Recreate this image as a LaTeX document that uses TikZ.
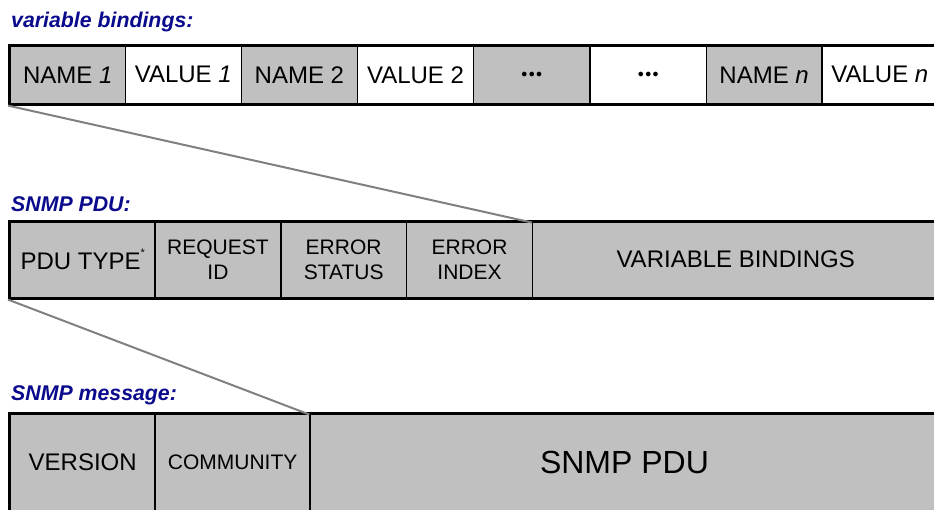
\documentclass[tikz,border=0pt]{standalone}
\usepackage{fontspec}
\setmainfont{Liberation Sans}
\definecolor{cellgray}{HTML}{C0C0C0}
\definecolor{lblblue}{HTML}{0A0A8C}
\definecolor{linkgray}{HTML}{808080}
\tikzset{
  cell/.style={draw=black, line width=1.6pt, inner sep=0pt, anchor=north west, align=center},
  gcell/.style={cell, fill=cellgray},
  wcell/.style={cell, fill=white},
  frame/.style={draw=black, line width=3pt},
  lbl/.style={anchor=west, inner sep=0pt, text=lblblue, font=\fontsize{21.3}{24}\selectfont\bfseries\itshape},
  link/.style={draw=linkgray, line width=2pt},
  big/.style={font=\fontsize{24}{28}\selectfont},
  mid/.style={font=\fontsize{21}{25}\selectfont},
  huge/.style={font=\fontsize{32}{36}\selectfont},
  toprow/.style={minimum height=57pt},
  midrow/.style={minimum height=75.5pt},
  botrow/.style={minimum height=96.5pt},
}
\newcommand{\mydots}{{\fontsize{13}{13}\selectfont$\bullet\mkern-2mu\bullet\mkern-2mu\bullet$}}
\begin{document}
\begin{tikzpicture}[x=1pt,y=-1pt]
\useasboundingbox (0,0) rectangle (934,509);
\begin{scope}
\clip (0,0) rectangle (934,509);
% labels
\node[lbl] (l1) at (11,22) {variable bindings:};
\node[lbl] (l2) at (11,204) {SNMP PDU:};
\node[lbl] (l3) at (11,395) {SNMP message:};
% top row
\node[gcell, big, toprow, minimum width=115pt] (ta) at (9.5,45.5) {NAME \textit{1}};
\node[wcell, big, toprow, minimum width=116pt] (tb) at (124.5,45.5) {VALUE \textit{1}};
\node[gcell, big, toprow, minimum width=116.2pt] (tc) at (240.5,45.5) {NAME 2};
\node[wcell, big, toprow, minimum width=116pt] (td) at (356.7,45.5) {VALUE 2};
\node[gcell, big, toprow, minimum width=116.6pt] (te) at (472.7,45.5) {\mydots};
\node[wcell, big, toprow, minimum width=116.4pt] (tf) at (589.3,45.5) {\mydots};
\node[gcell, big, toprow, minimum width=115.3pt] (tg) at (705.7,45.5) {NAME \textit{n}};
\node[wcell, big, toprow, minimum width=116pt] (th) at (821,45.5) {VALUE \textit{n}};
\draw[frame] (ta.north west) rectangle (th.south east);
% middle row
\node[gcell, big, midrow, minimum width=144.8pt] (ma) at (9.5,221) {PDU TYPE\raisebox{0.55em}{\fontsize{11}{11}\selectfont *}};
\node[gcell, mid, midrow, minimum width=125.7pt] (mb) at (154.3,221) {REQUEST\\ID};
\node[gcell, mid, midrow, minimum width=125.7pt] (mc) at (280,221) {ERROR\\STATUS};
\node[gcell, mid, midrow, minimum width=126pt] (md) at (405.7,221) {ERROR\\INDEX};
\node[gcell, big, midrow, minimum width=406.3pt] (me) at (531.7,221) {VARIABLE BINDINGS};
\draw[frame] (ma.north west) rectangle (me.south east);
% bottom row
\node[gcell, big, botrow, minimum width=144.8pt] (ba) at (9.5,413) {VERSION};
\node[gcell, mid, botrow, minimum width=155pt] (bb) at (154.3,413) {COMMUNITY};
\node[gcell, huge, botrow, minimum width=628.7pt] (bc) at (309.3,413) {SNMP PDU};
\draw[frame] (ba.north west) rectangle (bc.south east);
% connectors
\draw[link] ([shift={(-1.5,1.5)}]ta.south west) -- ([yshift=-1.5]me.north west);
\draw[link] ([shift={(-1.5,1.5)}]ma.south west) -- ([yshift=-1.5]bc.north west);
\end{scope}
\end{tikzpicture}
\end{document}
